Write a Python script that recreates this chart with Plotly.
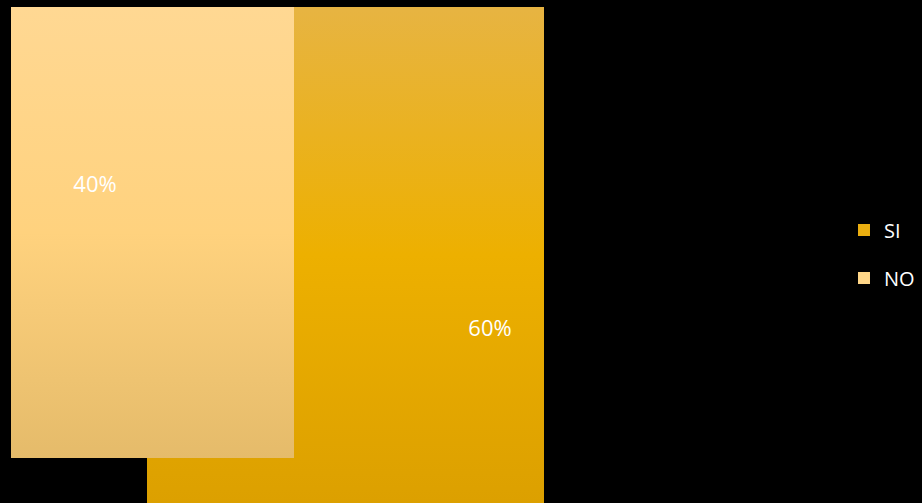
import plotly.graph_objects as go

# Data
labels = ["SI", "NO"]
values = [60, 40]
text_labels = ["60%", "40%"]

# Style / geometry (pixel space of the 922x503 canvas)
W, H = 922, 503
rects = {
    "SI": dict(x0=147, x1=544, y0=7, y1=503),
    "NO": dict(x0=11, x1=294, y0=7, y1=458),
}
label_pos = {"SI": (490, 330), "NO": (95, 186)}
gradients = {
    "SI": [[0, "#E7B442"], [0.5, "#EDB000"], [1, "#DCA000"]],
    "NO": [[0, "#FFD893"], [0.5, "#FFD27E"], [1, "#E5BB6A"]],
}
legend_colors = {"SI": "#EAAE10", "NO": "#FFD688"}

fig = go.Figure()

# draw SI first (behind), NO on top
for lab in ["SI", "NO"]:
    r = rects[lab]
    fig.add_trace(go.Scatter(
        x=[r["x0"], r["x1"], r["x1"], r["x0"], r["x0"]],
        y=[r["y0"], r["y0"], r["y1"], r["y1"], r["y0"]],
        mode="none", fill="toself",
        fillgradient=dict(type="vertical", colorscale=gradients[lab],
                          start=r["y0"], stop=r["y1"]),
        showlegend=False, hoverinfo="skip",
    ))

for lab, val, txt in zip(labels, values, text_labels):
    px, py = label_pos[lab]
    fig.add_trace(go.Scatter(
        x=[px], y=[py], mode="text", text=[txt],
        textfont=dict(color="#FFFFFF", size=22, family="Open Sans"),
        showlegend=False, hovertext=[f"{lab}: {val}%"], hoverinfo="text",
    ))

# legend entries
for i, lab in enumerate(labels):
    fig.add_trace(go.Scatter(
        x=[None], y=[None], mode="markers", name=lab,
        marker=dict(symbol="square", size=14, color=legend_colors[lab]),
        legendgroup=lab,
    ))

fig.update_layout(
    width=W, height=H,
    margin=dict(l=0, r=0, t=0, b=0, autoexpand=False),
    paper_bgcolor="#000000", plot_bgcolor="#000000",
    xaxis=dict(range=[0, W], visible=False, fixedrange=True),
    yaxis=dict(range=[H, 0], visible=False, fixedrange=True),
    showlegend=True,
    legend=dict(
        x=0.9154, y=0.495, xanchor="left", yanchor="middle",
        font=dict(color="#FFFFFF", size=20, family="Open Sans"),
        bgcolor="rgba(0,0,0,0)", tracegroupgap=19,
        itemsizing="constant",
    ),
)

fig.write_html(
    "out.html",
    config={"displayModeBar": False},
    post_script="document.body.style.margin='0';document.body.style.overflow='hidden';document.body.style.background='#000';",
)
